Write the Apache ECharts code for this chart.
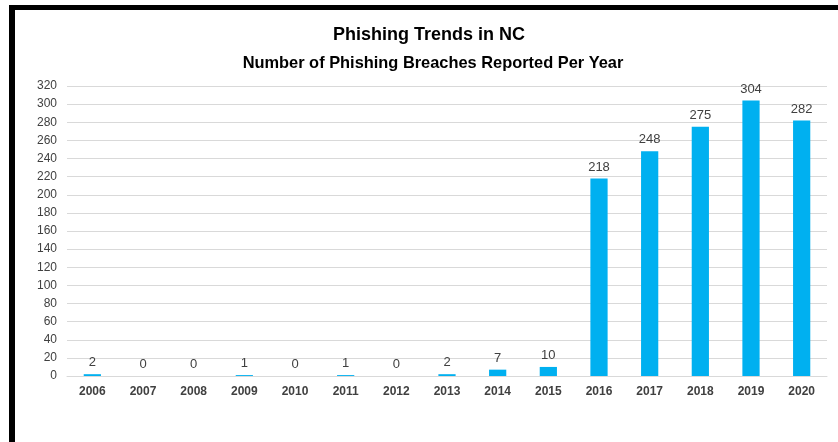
<!DOCTYPE html>
<html>
<head>
<meta charset="utf-8">
<script src="https://cdn.jsdelivr.net/npm/echarts@6/dist/echarts.min.js"></script>
<style>
html,body{margin:0;padding:0;background:#fff;}
#chart{width:838px;height:442px;}
</style>
</head>
<body>
<div id="chart"></div>
<script>
const years = ['2006','2007','2008','2009','2010','2011','2012','2013','2014','2015','2016','2017','2018','2019','2020'];
const breaches = [2,0,0,1,0,1,0,2,7,10,218,248,275,304,282];
const titleText = 'Phishing Trends in NC';
const subtitleText = 'Number of Phishing Breaches Reported Per Year';

const chart = echarts.init(document.getElementById('chart'));
chart.setOption({
  backgroundColor: '#ffffff',
  animation: false,
  title: [
    { text: titleText, left: 424, top: 21, textAlign: 'center',
      textStyle: { fontFamily: 'Liberation Sans', fontSize: 18, fontWeight: 'bold', color: '#000' } },
    { text: subtitleText, left: 428, top: 50, textAlign: 'center',
      textStyle: { fontFamily: 'Liberation Sans', fontSize: 16.4, fontWeight: 'bold', color: '#000' } }
  ],
  graphic: [
    { type: 'rect', shape: { x: 9, y: 5, width: 829, height: 5 }, style: { fill: '#000' }, silent: true },
    { type: 'rect', shape: { x: 9, y: 5, width: 6, height: 437 }, style: { fill: '#000' }, silent: true }
  ],
  grid: { left: 67, right: 11, top: 86, bottom: 66 },
  xAxis: {
    type: 'category',
    data: years,
    axisLine: { show: true, lineStyle: { color: '#d9d9d9' } },
    axisTick: { show: false },
    axisLabel: { margin: 10, fontFamily: 'Liberation Sans', fontSize: 12, fontWeight: 'bold', color: '#404040' }
  },
  yAxis: {
    type: 'value',
    min: 0, max: 320, interval: 20,
    axisLine: { show: false },
    axisTick: { show: false },
    splitLine: { lineStyle: { color: '#d9d9d9', width: 1 } },
    axisLabel: { margin: 10, fontFamily: 'Liberation Sans', fontSize: 12, color: '#404040' }
  },
  series: [{
    type: 'bar',
    data: breaches,
    barWidth: '34%',
    itemStyle: { color: '#00B0F0' },
    label: { show: true, position: 'top', distance: 5,
      fontFamily: 'Liberation Sans', fontSize: 13, color: '#404040' }
  }]
});
</script>
</body>
</html>
